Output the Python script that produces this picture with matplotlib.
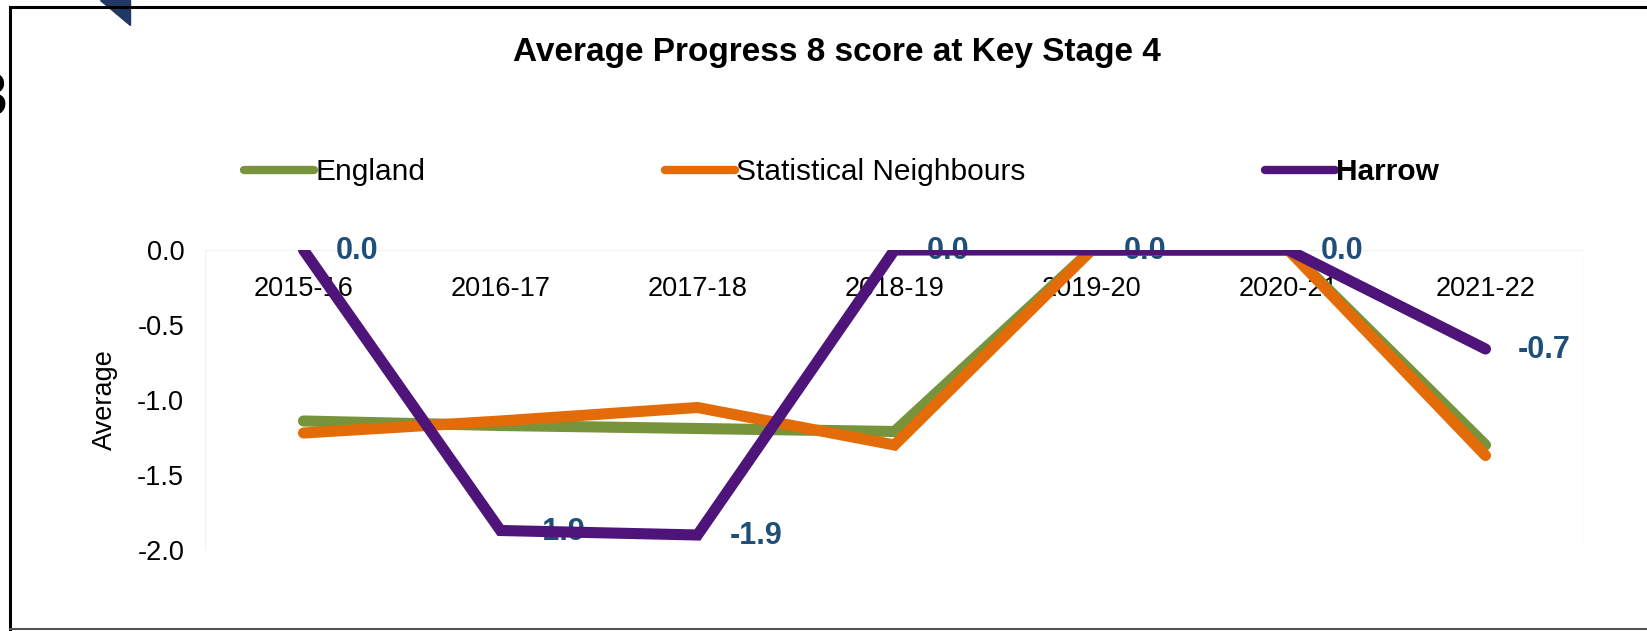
import matplotlib
matplotlib.use('Agg')
import matplotlib.pyplot as plt
from matplotlib.lines import Line2D
from matplotlib.patches import Polygon, Rectangle

plt.rcParams['font.family'] = ['Liberation Sans', 'DejaVu Sans']

# ---- data ----
years = ['2015-16', '2016-17', '2017-18', '2018-19', '2019-20', '2020-21', '2021-22']
england = [-1.14, -1.17, -1.19, -1.21, 0.0, 0.0, -1.30]
stat_neighbours = [-1.22, -1.14, -1.05, -1.30, 0.0, 0.0, -1.37]
harrow = [0.0, -1.87, -1.90, 0.0, 0.0, 0.0, -0.66]
harrow_labels = ['0.0', '-1.9', '-1.9', '0.0', '0.0', '0.0', '-0.7']
y_ticks = [0.0, -0.5, -1.0, -1.5, -2.0]
y_tick_labels = ['0.0', '-0.5', '-1.0', '-1.5', '-2.0']
series_names = ['England', 'Statistical Neighbours', 'Harrow']

# ---- style ----
C_ENG = '#77933C'
C_SN = '#E36C09'
C_HAR = '#4F1479'
C_LAB = '#1F4E79'
FS = 19.5

W, H = 1647, 631
fig = plt.figure(figsize=(W / 100, H / 100), dpi=100)
ax = fig.add_axes([205 / W, 1 - 550 / H, (1584 - 205) / W, 300 / H])

x = list(range(len(years)))
line_kw = dict(lw=8, solid_capstyle='round', solid_joinstyle='miter', zorder=3)
ax.plot(x, england, color=C_ENG, **line_kw)
ax.plot(x, stat_neighbours, color=C_SN, **line_kw)
ax.plot(x, harrow, color=C_HAR, **line_kw)

for xi, yi, lab in zip(x, harrow, harrow_labels):
    ax.annotate(lab, (xi, yi), xytext=(23, -1), textcoords='offset points',
                ha='left', va='center', fontsize=22, fontweight='bold',
                color=C_LAB, zorder=1, annotation_clip=False)

ax.set_xlim(-0.5, len(years) - 0.5)
ax.set_ylim(-2.0, 0.0)
ax.spines['bottom'].set_position(('data', 0))
for s in ax.spines.values():
    s.set_visible(False)
ax.set_xticks(x)
ax.set_xticklabels(years)
ax.set_yticks(y_ticks)
ax.set_yticklabels(y_tick_labels)
ax.tick_params(axis='x', length=0, pad=19, labelsize=FS)
ax.tick_params(axis='y', length=0, pad=15, labelsize=FS)
ax.add_patch(Rectangle((0, 0), 1, 1, transform=ax.transAxes, fill=False,
                       ec='#F2F2F2', lw=1, zorder=0))
ax.set_ylabel('Average', fontsize=FS, labelpad=14)

# title
fig.text(837 / W, 1 - 53 / H, 'Average Progress 8 score at Key Stage 4',
         ha='center', va='center', fontsize=24, fontweight='bold')

# legend
handles = [Line2D([], [], color=c, lw=6, solid_capstyle='round')
           for c in (C_ENG, C_SN, C_HAR)]
leg = fig.legend(handles, series_names, loc='center', bbox_to_anchor=(0.511, 1 - 172 / H),
                 ncol=3, frameon=False, fontsize=21.5, handlelength=2.35,
                 handletextpad=0.05, columnspacing=8.0)
leg.get_texts()[2].set_fontweight('bold')

# outer frame (screenshot crop)
fr = dict(color='black', lw=2.2, transform=fig.transFigure, clip_on=False)
fig.add_artist(Line2D([10 / W, 1.01], [1 - 7 / H, 1 - 7 / H], **fr))
fig.add_artist(Line2D([10 / W, 10 / W], [1 - 7 / H, 1 - 629 / H], **fr))
fig.add_artist(Line2D([10 / W, 1.01], [1 - 629 / H, 1 - 629 / H], color='#555555', lw=1.5,
                      transform=fig.transFigure))
fig.add_artist(Polygon([(100 / W, 1.0), (130 / W, 1.0), (130 / W, 1 - 25 / H)],
                       closed=True, color='#1F3864', transform=fig.transFigure))
fig.text(8 / W, 1 - 100 / H, '3', ha='right', va='center', fontsize=44,
         bbox=dict(fc='white', ec='none', pad=0))

fig.savefig('out.png', dpi=100)
